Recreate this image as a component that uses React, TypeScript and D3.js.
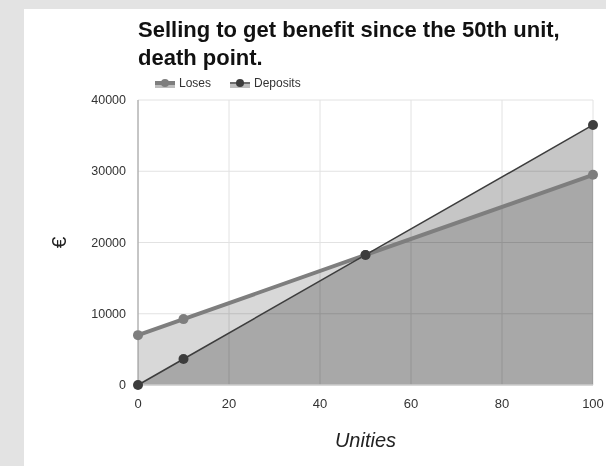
import React from "react";
import * as d3 from "d3";

const unities = [0, 10, 50, 100];
const loses = [7000, 9250, 18250, 29500];
const deposits = [0, 3650, 18250, 36500];
const xTicks = [0, 20, 40, 60, 80, 100];
const yTicks = [0, 10000, 20000, 30000, 40000];
const seriesNames = ["Loses", "Deposits"];
const titleLines = ["Selling to get benefit since the 50th unit,", "death point."];

const W = 606;
const H = 466;
const left = 138;
const right = 593;
const top = 100;
const bottom = 385;

export default function App() {
  const x = d3.scaleLinear().domain([0, 100]).range([left, right]);
  const y = d3.scaleLinear().domain([0, 40000]).range([bottom, top]);

  const lossPts = unities.map((u, i) => [u, loses[i]] as [number, number]);
  const depPts = unities.map((u, i) => [u, deposits[i]] as [number, number]);

  const area = d3
    .area<[number, number]>()
    .x((d) => x(d[0]))
    .y0(y(0))
    .y1((d) => y(d[1]));
  const line = d3
    .line<[number, number]>()
    .x((d) => x(d[0]))
    .y((d) => y(d[1]));

  const font = "'Liberation Sans', Arial, sans-serif";
  const lossColor = "#7e7e7e";
  const depColor = "#3d3d3d";

  return (
    <div style={{ position: "absolute", left: 0, top: 0 }}>
      <svg width={W} height={H} style={{ display: "block" }}>
        <rect x={0} y={0} width={W} height={H} fill="#e3e3e3" />
        <rect x={24} y={9} width={W - 24} height={H - 9} fill="#ffffff" />

        {/* title */}
        {titleLines.map((t, i) => (
          <text
            key={i}
            x={138}
            y={37 + i * 28}
            fontFamily={font}
            fontWeight="bold"
            fontSize={22}
            fill="#111"
          >
            {t}
          </text>
        ))}

        {/* legend */}
        <g fontFamily={font} fontSize={12} fill="#333">
          <rect x={155} y={84} width={20} height={4} fill="#bdbdbd" />
          <line x1={155} x2={175} y1={83} y2={83} stroke={lossColor} strokeWidth={4} />
          <circle cx={165} cy={83} r={4} fill={lossColor} />
          <text x={179} y={87}>{seriesNames[0]}</text>
          <rect x={230} y={84} width={20} height={4} fill="#bdbdbd" />
          <line x1={230} x2={250} y1={83} y2={83} stroke={depColor} strokeWidth={1.5} />
          <circle cx={240} cy={83} r={4} fill={depColor} />
          <text x={254} y={87}>{seriesNames[1]}</text>
        </g>

        {/* grid */}
        {yTicks.map((t) => (
          <line key={"gy" + t} x1={left} x2={right} y1={y(t)} y2={y(t)} stroke="#e2e2e2" strokeWidth={1} />
        ))}
        {xTicks.map((t) => (
          <line key={"gx" + t} x1={x(t)} x2={x(t)} y1={top} y2={bottom} stroke="#e2e2e2" strokeWidth={1} />
        ))}

        {/* areas */}
        <path d={area(lossPts) || ""} fill="#d8d8d8" style={{ mixBlendMode: "multiply" }} />
        <path d={area(depPts) || ""} fill="#c6c6c6" style={{ mixBlendMode: "multiply" }} />

        {/* baselines */}
        <line x1={left} x2={left} y1={top} y2={bottom} stroke="#9a9a9a" strokeWidth={1} />
        <line x1={left} x2={right} y1={bottom} y2={bottom} stroke="#cfcfcf" strokeWidth={1.5} />

        {/* lines */}
        <path d={line(lossPts) || ""} fill="none" stroke={lossColor} strokeWidth={4} />
        <path d={line(depPts) || ""} fill="none" stroke={depColor} strokeWidth={1.5} />
        {lossPts.map((d, i) => (
          <circle key={"lp" + i} cx={x(d[0])} cy={y(d[1])} r={5} fill={lossColor} />
        ))}
        {depPts.map((d, i) => (
          <circle key={"dp" + i} cx={x(d[0])} cy={y(d[1])} r={5} fill={depColor} />
        ))}

        {/* tick labels */}
        <g fontFamily={font} fill="#333">
          {yTicks.map((t) => (
            <text key={"ty" + t} x={126} y={y(t) + 4} textAnchor="end" fontSize={12.5}>
              {t}
            </text>
          ))}
          {xTicks.map((t) => (
            <text key={"tx" + t} x={x(t)} y={408} textAnchor="middle" fontSize={13}>
              {t}
            </text>
          ))}
        </g>

        {/* axis titles */}
        <text
          x={(left + right) / 2}
          y={447}
          textAnchor="middle"
          fontFamily={font}
          fontStyle="italic"
          fontSize={20}
          fill="#222"
        >
          Unities
        </text>
        <text
          transform={`translate(66,${(top + bottom) / 2}) rotate(-90)`}
          textAnchor="middle"
          fontFamily={font}
          fontSize={21}
          fill="#222"
        >
          €
        </text>
      </svg>
    </div>
  );
}
